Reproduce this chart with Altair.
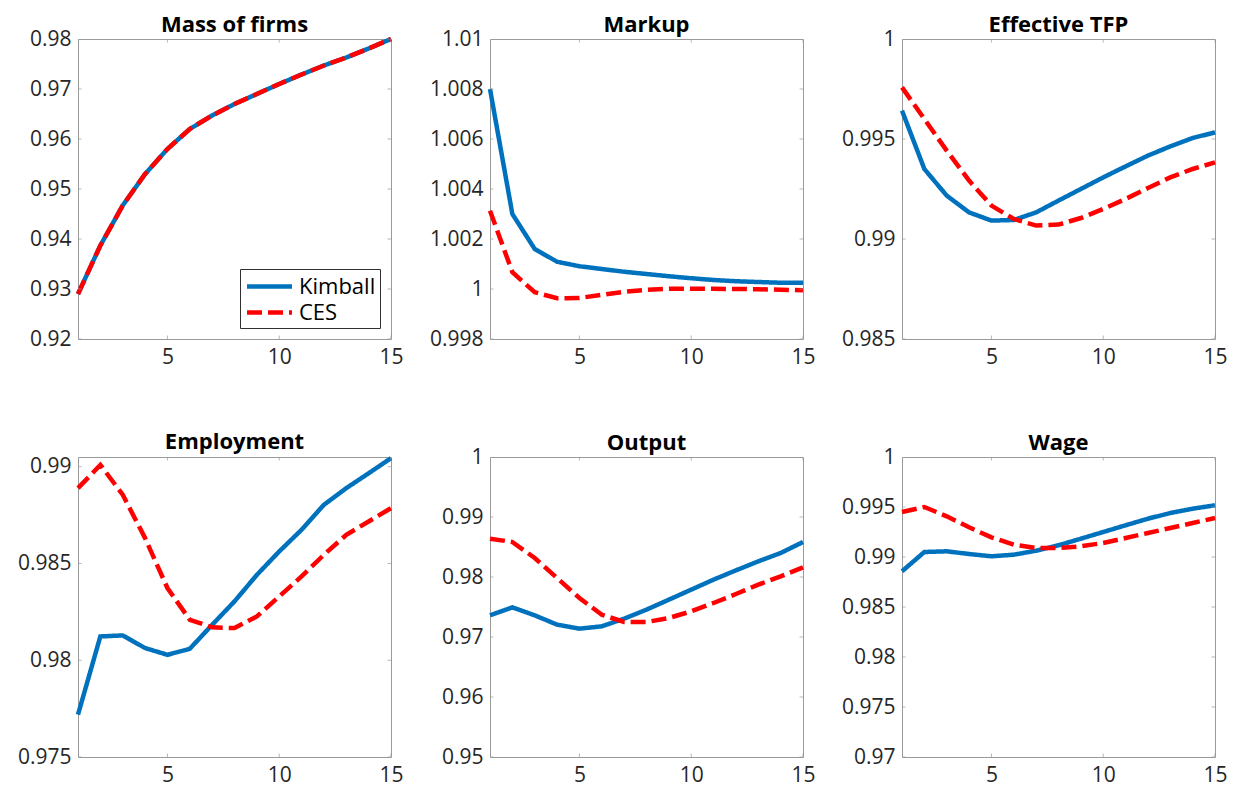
import altair as alt
import pandas as pd

t = list(range(1, 16))
series_names = ["Kimball", "CES"]
series_colors = ["#0072BD", "#FF0000"]
x_ticks = [5, 10, 15]

titles = ["Mass of firms", "Markup", "Effective TFP", "Employment", "Output", "Wage"]

mass_kimball = [0.929, 0.9387, 0.9467, 0.953, 0.958, 0.962, 0.9647, 0.967, 0.969,
                0.971, 0.9729, 0.9747, 0.9763, 0.9781, 0.980]
mass_ces = [0.929, 0.9387, 0.9467, 0.953, 0.958, 0.962, 0.9647, 0.967, 0.969,
            0.971, 0.9729, 0.9747, 0.9763, 0.9781, 0.980]

markup_kimball = [1.0080, 1.0030, 1.0016, 1.00109, 1.00091, 1.0008, 1.00069, 1.0006,
                  1.00051, 1.00043, 1.00036, 1.00031, 1.00028, 1.00025, 1.00025]
markup_ces = [1.00313, 1.00067, 0.99987, 0.99963, 0.99964, 0.99977, 0.99989, 0.99997,
              1.00001, 1.00001, 1.00001, 1.0, 0.99999, 0.99997, 0.99995]

tfp_kimball = [0.99642, 0.9935, 0.99217, 0.99133, 0.99092, 0.99095, 0.99133, 0.99192,
               0.9925, 0.99308, 0.99363, 0.99417, 0.99463, 0.99505, 0.99533]
tfp_ces = [0.99758, 0.996, 0.99442, 0.99292, 0.99167, 0.991, 0.99067, 0.99072,
           0.99105, 0.9915, 0.992, 0.99255, 0.99308, 0.9935, 0.99383]

emp_kimball = [0.97719, 0.98123, 0.98128, 0.98063, 0.98028, 0.98059, 0.98183, 0.98304,
               0.98441, 0.98562, 0.98674, 0.98803, 0.98889, 0.98966, 0.99044]
emp_ces = [0.98889, 0.99009, 0.98855, 0.98631, 0.98373, 0.98209, 0.9817, 0.98166,
           0.98226, 0.9833, 0.98433, 0.98545, 0.98648, 0.98717, 0.98786]

out_kimball = [0.97361, 0.97494, 0.97361, 0.97206, 0.97139, 0.97178, 0.97306, 0.97456,
               0.97622, 0.97789, 0.97956, 0.98111, 0.98261, 0.984, 0.98583]
out_ces = [0.98639, 0.98583, 0.98317, 0.97983, 0.9765, 0.97372, 0.9725, 0.9725,
           0.97317, 0.97428, 0.97567, 0.97717, 0.97872, 0.98011, 0.98161]

wage_kimball = [0.98857, 0.9905, 0.99057, 0.9903, 0.99007, 0.99023, 0.99063, 0.99117,
                0.99183, 0.9925, 0.99317, 0.99383, 0.9944, 0.99483, 0.99517]
wage_ces = [0.9945, 0.995, 0.99407, 0.99297, 0.99197, 0.99123, 0.9909, 0.9909,
            0.99107, 0.9914, 0.9919, 0.9924, 0.9929, 0.9934, 0.9939]

y_domains = [[0.92, 0.98], [0.998, 1.01], [0.985, 1.0],
             [0.975, 0.9905], [0.95, 1.0], [0.97, 1.0]]
y_ticks = [
    [0.92, 0.93, 0.94, 0.95, 0.96, 0.97, 0.98],
    [0.998, 1.0, 1.002, 1.004, 1.006, 1.008, 1.01],
    [0.985, 0.99, 0.995, 1.0],
    [0.975, 0.98, 0.985, 0.99],
    [0.95, 0.96, 0.97, 0.98, 0.99, 1.0],
    [0.97, 0.975, 0.98, 0.985, 0.99, 0.995, 1.0],
]
kimball_all = [mass_kimball, markup_kimball, tfp_kimball, emp_kimball, out_kimball, wage_kimball]
ces_all = [mass_ces, markup_ces, tfp_ces, emp_ces, out_ces, wage_ces]

FONT = "Open Sans"
FRAME = "#9a9a9a"
LW = 4.5


def make_panel(i):
    k, c = kimball_all[i], ces_all[i]
    dom, yt = y_domains[i], y_ticks[i]
    df = pd.DataFrame({"t": t * 2, "value": k + c,
                       "series": ["Kimball"] * len(t) + ["CES"] * len(t)})
    xs = alt.Scale(domain=[1, 15], nice=False, zero=False)
    ys = alt.Scale(domain=dom, nice=False, zero=False)
    xax = alt.Axis(values=x_ticks, labelFlush=False, labelOverlap=False)
    yax = alt.Axis(values=yt, format="~g", labelFlush=False, labelOverlap=False)
    if i == 0:
        leg = alt.Legend(orient="bottom-right", offset=11, title=None,
                         symbolType="M-2,0L2,0", symbolSize=506, symbolStrokeWidth=LW,
                         labelFontSize=22, labelFont=FONT, labelColor="#000000",
                         strokeColor="#303030", fillColor="#ffffff", padding=4,
                         rowPadding=1, labelOffset=16, symbolOffset=12)
    else:
        leg = None
    color = alt.Color("series:N", scale=alt.Scale(domain=series_names, range=series_colors),
                      legend=leg, title=None)
    dash = alt.StrokeDash("series:N", scale=alt.Scale(domain=series_names,
                                                      range=[[1, 0], [15, 6]]),
                          legend=leg, title=None)
    base = alt.Chart(df).encode(
        x=alt.X("t:Q", scale=xs, axis=xax, title=None),
        y=alt.Y("value:Q", scale=ys, axis=yax, title=None),
        color=color, strokeDash=dash)
    lk = base.transform_filter(alt.datum.series == "Kimball").mark_line(strokeWidth=LW)
    lc = base.transform_filter(alt.datum.series == "CES").mark_line(strokeWidth=LW)

    ydf = pd.DataFrame({"x": [1] * len(yt) + [15] * len(yt), "v": yt + yt})
    xdf = pd.DataFrame({"x": x_ticks * 2, "v": [dom[0]] * 3 + [dom[1]] * 3})
    ytk = alt.Chart(ydf).mark_tick(orient="horizontal", size=7, thickness=1,
                                   clip=True, color=FRAME).encode(
        x=alt.X("x:Q", scale=xs, axis=xax, title=None),
        y=alt.Y("v:Q", scale=ys, axis=yax, title=None))
    xtk = alt.Chart(xdf).mark_tick(orient="vertical", size=7, thickness=1,
                                   clip=True, color=FRAME).encode(
        x=alt.X("x:Q", scale=xs, axis=xax, title=None),
        y=alt.Y("v:Q", scale=ys, axis=yax, title=None))
    # the top tick label of Employment sits below the frame, so lift its title
    toff = -5 if i == 3 else -9
    return alt.layer(lk, lc, ytk, xtk).properties(
        width=313, height=300,
        title=alt.TitleParams(titles[i], frame="group", offset=toff))


chart = alt.concat(*[make_panel(i) for i in range(6)], columns=3,
                   spacing={"row": 118, "column": 99}, bounds="flush").resolve_scale(
    x="independent", y="independent", color="independent", strokeDash="independent"
).properties(
    padding={"left": 8, "top": 5, "right": 5, "bottom": 5},
    background="white"
).configure_view(
    stroke=FRAME, strokeWidth=1
).configure_axis(
    labelFont=FONT, labelFontSize=21, labelColor="#262626", ticks=False,
    domain=False, grid=False, labelPadding=7
).configure_title(
    font=FONT, fontSize=22, fontWeight="bold", color="#000000"
)

chart.save("out.html", embed_options={"renderer": "svg", "actions": False})
